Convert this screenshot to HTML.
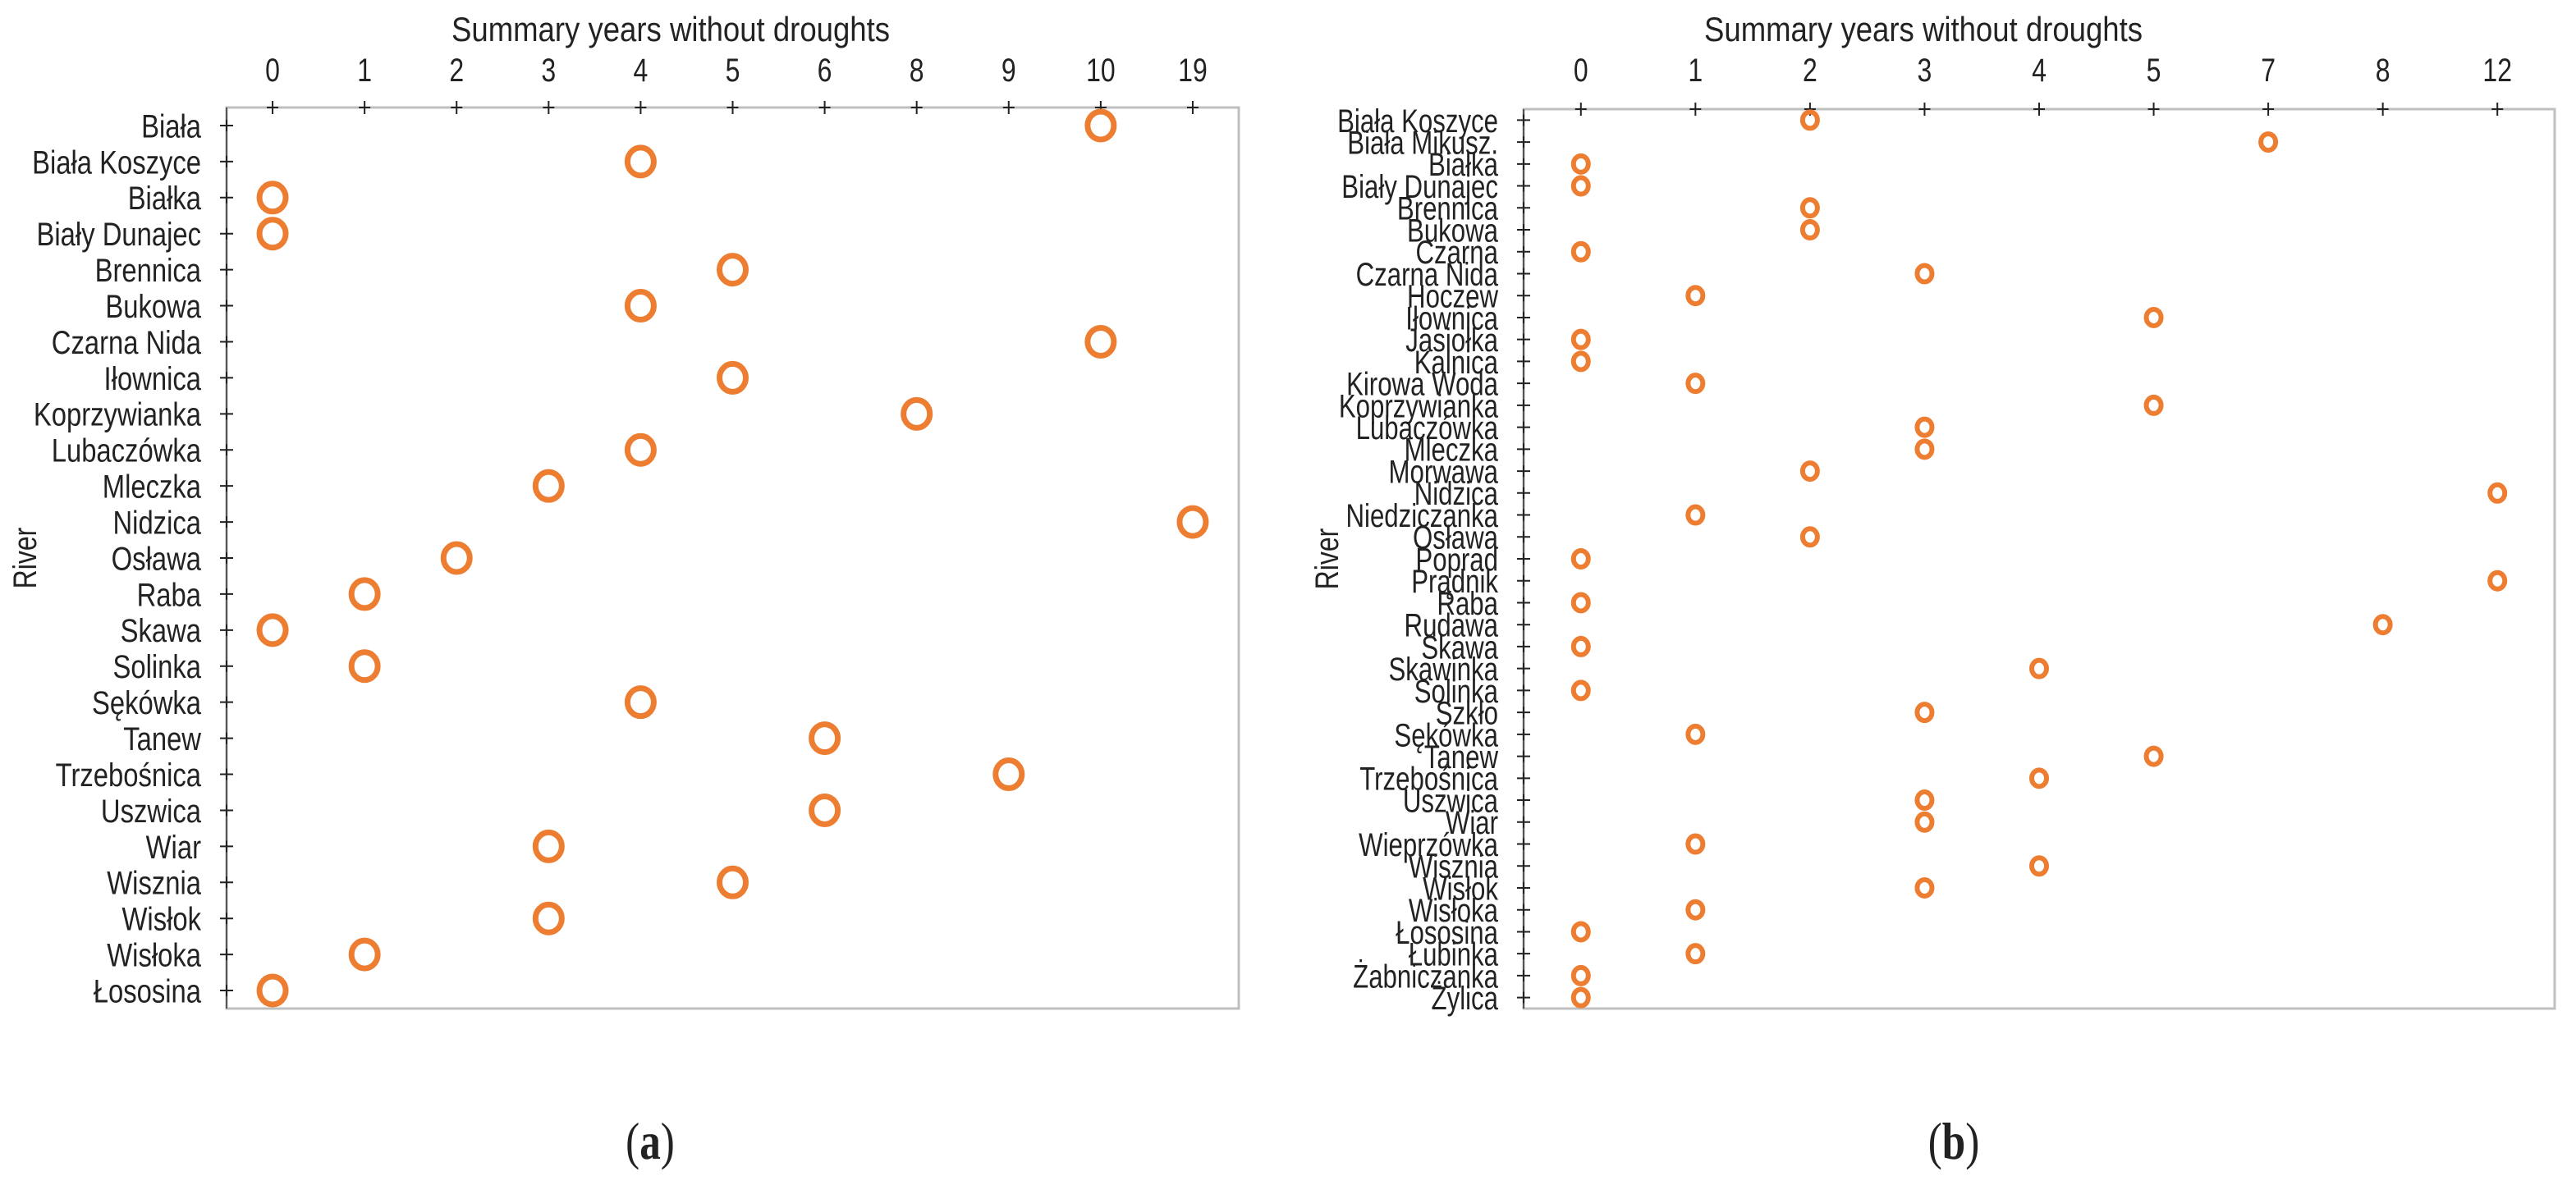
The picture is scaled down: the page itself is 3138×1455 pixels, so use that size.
<!DOCTYPE html>
<html><head><meta charset="utf-8"><style>
html,body{margin:0;padding:0;background:#fff}
svg{display:block}
text{font-family:"Liberation Sans",sans-serif;fill:#222}
</style></head><body>
<svg id="root" width="3138" height="1455" viewBox="0 0 3138 1455" xmlns="http://www.w3.org/2000/svg">
<g id="pa"></g>
<g id="pb"></g>
<text transform="translate(792,1412) scale(0.8,1)" text-anchor="middle" style="font-family:'Liberation Serif',serif;font-size:64px">(<tspan font-weight="bold">a</tspan>)</text>
<text transform="translate(2380,1412) scale(0.8,1)" text-anchor="middle" style="font-family:'Liberation Serif',serif;font-size:64px">(<tspan font-weight="bold">b</tspan>)</text>
</svg>
<script>
const riversA = ["Biała","Biała Koszyce","Białka","Biały Dunajec","Brennica","Bukowa","Czarna Nida","Iłownica","Koprzywianka","Lubaczówka","Mleczka","Nidzica","Osława","Raba","Skawa","Solinka","Sękówka","Tanew","Trzebośnica","Uszwica","Wiar","Wisznia","Wisłok","Wisłoka","Łososina"];
const valuesA = [10,4,0,0,5,4,10,5,8,4,3,19,2,1,0,1,4,6,9,6,3,5,3,1,0];
const ticksA = [0,1,2,3,4,5,6,8,9,10,19];
const riversB = ["Biała Koszyce","Biała Mikusz.","Białka","Biały Dunajec","Brennica","Bukowa","Czarna","Czarna Nida","Hoczew","Iłownica","Jasiołka","Kalnica","Kirowa Woda","Koprzywianka","Lubaczówka","Mleczka","Morwawa","Nidzica","Niedziczanka","Osława","Poprad","Prądnik","Raba","Rudawa","Skawa","Skawinka","Solinka","Szkło","Sękówka","Tanew","Trzebośnica","Uszwica","Wiar","Wieprzówka","Wisznia","Wisłok","Wisłoka","Łososina","Łubinka","Żabniczanka","Żylica"];
const valuesB = [2,7,0,0,2,2,0,3,1,5,0,0,1,5,3,3,2,12,1,2,0,12,0,8,0,4,0,3,1,5,4,3,3,1,4,3,1,0,1,0,0];
const ticksB = [0,1,2,3,4,5,7,8,12];

const NS="http://www.w3.org/2000/svg";
function mk(tag,attrs,parent){const e=document.createElementNS(NS,tag);for(const k in attrs)e.setAttribute(k,attrs[k]);parent.appendChild(e);return e;}

function panel(g,cfg,rivers,values,ticks,prefix){
  const nT=ticks.length, nR=rivers.length;
  const bw=(cfg.right-cfg.left)/nT, bh=(cfg.bottom-cfg.top)/nR;
  const xOf=v=>cfg.left+(ticks.indexOf(v)+0.5)*bw;
  const yOf=i=>cfg.top+(i+0.5)*bh;
  const frame=mk('rect',{x:cfg.left,y:cfg.top,width:cfg.right-cfg.left,height:cfg.bottom-cfg.top,fill:'none',stroke:'#bfbfbf','stroke-width':3},g);
  
  
  const yax=mk('line',{x1:cfg.left,y1:cfg.top,x2:cfg.left,y2:cfg.bottom,stroke:'#555','stroke-width':2},g);
  
  
  const t=mk('text',{x:0,y:0,'font-size':42,transform:`translate(${cfg.titleX},50) scale(0.87,1)`},g);
  t.textContent='Summary years without droughts';
  
  
  ticks.forEach(v=>{
    const x=xOf(v);
    const tl=mk('text',{x:0,y:0,'text-anchor':'middle','font-size':40,transform:`translate(${x},99) scale(0.8,1)`},g);
    tl.textContent=String(v);
    
    
    const tk=mk('path',{d:`M${x-7},${cfg.top}H${x+7}M${x},${cfg.top-8}V${cfg.top+8}`,stroke:'#222','stroke-width':2},g);
    
    
  });
  rivers.forEach((r,i)=>{
    const y=yOf(i);
    const lab=mk('text',{x:0,y:0,'text-anchor':'end','font-size':cfg.labelSize,transform:`translate(${cfg.left-31},${y+cfg.labelSize*0.36}) scale(${cfg.labelSx},1)`},g);
    lab.textContent=r;
    
    
    const tk=mk('path',{d:`M${cfg.left-8},${y}H${cfg.left+8}M${cfg.left},${y-7}V${y+7}`,stroke:'#222','stroke-width':2},g);
    
    
  });
  values.forEach((v,i)=>{
    const c=mk('ellipse',{cx:xOf(v),cy:yOf(i),rx:cfg.r,ry:cfg.r+1,fill:'none',stroke:'#ED7D31','stroke-width':cfg.sw},g);
    
    
  });
  const rv=mk('text',{x:0,y:0,'font-size':40,transform:`translate(${cfg.riverX},${(cfg.top+cfg.bottom)/2}) rotate(-90) scale(0.8,1)`,'text-anchor':'middle'},g);
  rv.textContent='River';
  
  
}
panel(document.getElementById('pa'),{left:276,right:1509,top:131,bottom:1229,titleX:550,labelSize:40,labelSx:0.82,r:16,sw:7,riverX:44},riversA,valuesA,ticksA,'a');
panel(document.getElementById('pb'),{left:1856,right:3112,top:133,bottom:1229,titleX:2076,labelSize:40,labelSx:0.78,r:9,sw:6,riverX:1630},riversB,valuesB,ticksB,'b');
</script>
</body></html>
